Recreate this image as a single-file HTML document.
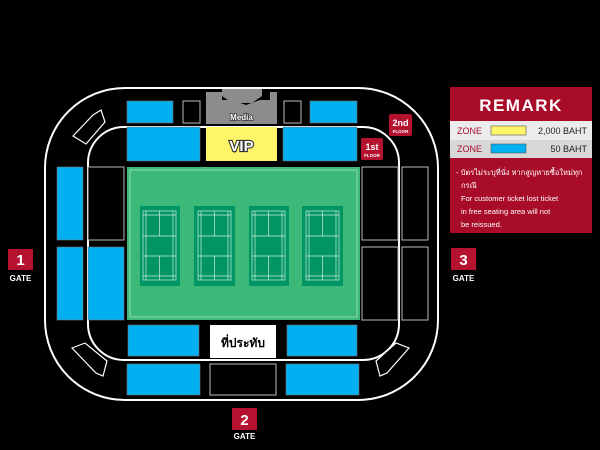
<!DOCTYPE html>
<html><head><meta charset="utf-8"><style>
body{margin:0;background:#000;width:600px;height:450px;overflow:hidden;font-family:"Liberation Sans",sans-serif}
</style></head><body>
<svg width="600" height="450" viewBox="0 0 600 450" xmlns="http://www.w3.org/2000/svg" style="position:absolute;left:0;top:0">
<rect width="600" height="450" fill="#000"/>
<rect x="45" y="88" width="393" height="312" rx="80" fill="none" stroke="#fff" stroke-width="2"/>
<rect x="88" y="127" width="311" height="233" rx="36" fill="none" stroke="#fff" stroke-width="2"/>
<g fill="#000" stroke="#fff" stroke-width="1.2">
<polygon points="73,136 93,115 101,110 105,122 86,144"/>
<polygon points="72,348 85,343 107,361 103,376 96,373"/>
<polygon points="409,348 396,343 376,361 380,376 387,373"/>
</g>
<g fill="#00b0f0" stroke="#777" stroke-width="0.6">
<rect x="127" y="101" width="46" height="22"/>
<rect x="310" y="101" width="47" height="22"/>
<rect x="127" y="127" width="73" height="34"/>
<rect x="283" y="127" width="74" height="34"/>
<rect x="57" y="167" width="26" height="73"/>
<rect x="57" y="247" width="26" height="73"/>
<rect x="88" y="247" width="36" height="73"/>
<rect x="128" y="325" width="71" height="31"/>
<rect x="287" y="325" width="70" height="31"/>
<rect x="127" y="364" width="73" height="31"/>
<rect x="286" y="364" width="73" height="31"/>
</g>
<g fill="#000" stroke="#bbb" stroke-width="1">
<rect x="183" y="101" width="17" height="22"/>
<rect x="284" y="101" width="17" height="22"/>
<rect x="88" y="167" width="36" height="73"/>
<rect x="362" y="167" width="36" height="73"/>
<rect x="402" y="167" width="26" height="73"/>
<rect x="362" y="247" width="36" height="73"/>
<rect x="402" y="247" width="26" height="73"/>
<rect x="210" y="364" width="66" height="31"/>
</g>
<polygon points="206,92 222,92 222,100 232,100 246,105 260,100 270,100 270,92 277,92 277,124 206,124" fill="#8c8c8c"/>
<polygon points="222,89 262,89 262,96 252,103 232,103 222,96" fill="#8c8c8c"/>
<text x="241.5" y="120" text-anchor="middle" font-size="8" font-weight="bold" fill="#fff" stroke="#333" stroke-width="1.5" paint-order="stroke">Media</text>
<rect x="206" y="127" width="71" height="34" fill="#fff568"/>
<text x="241.5" y="151" text-anchor="middle" font-size="15" font-weight="bold" fill="#fff" stroke="#333" stroke-width="2.2" paint-order="stroke">VIP</text>
<rect x="127" y="167" width="233" height="153" fill="#3cb878"/>
<rect x="130" y="170" width="227" height="147" fill="none" stroke="#8fd9ad" stroke-width="1"/>
<g fill="#009564"><rect x="140" y="206" width="40" height="80"/><rect x="194" y="206" width="41" height="80"/><rect x="249" y="206" width="40" height="80"/><rect x="302" y="206" width="41" height="80"/></g>
<g fill="none" stroke="#cfeedd" stroke-width="0.7">
<rect x="143" y="211" width="33" height="69"/><line x1="143" y1="236" x2="176" y2="236"/><line x1="143" y1="256" x2="176" y2="256"/><line x1="159.5" y1="211" x2="159.5" y2="236"/><line x1="159.5" y1="256" x2="159.5" y2="280"/><line x1="146" y1="211" x2="146" y2="280"/><line x1="173" y1="211" x2="173" y2="280"/><line x1="143" y1="215" x2="176" y2="215"/><line x1="143" y1="276" x2="176" y2="276"/>
<rect x="198" y="211" width="33" height="69"/><line x1="198" y1="236" x2="231" y2="236"/><line x1="198" y1="256" x2="231" y2="256"/><line x1="214.5" y1="211" x2="214.5" y2="236"/><line x1="214.5" y1="256" x2="214.5" y2="280"/><line x1="201" y1="211" x2="201" y2="280"/><line x1="228" y1="211" x2="228" y2="280"/><line x1="198" y1="215" x2="231" y2="215"/><line x1="198" y1="276" x2="231" y2="276"/>
<rect x="252" y="211" width="33" height="69"/><line x1="252" y1="236" x2="285" y2="236"/><line x1="252" y1="256" x2="285" y2="256"/><line x1="268.5" y1="211" x2="268.5" y2="236"/><line x1="268.5" y1="256" x2="268.5" y2="280"/><line x1="255" y1="211" x2="255" y2="280"/><line x1="282" y1="211" x2="282" y2="280"/><line x1="252" y1="215" x2="285" y2="215"/><line x1="252" y1="276" x2="285" y2="276"/>
<rect x="306" y="211" width="33" height="69"/><line x1="306" y1="236" x2="339" y2="236"/><line x1="306" y1="256" x2="339" y2="256"/><line x1="322.5" y1="211" x2="322.5" y2="236"/><line x1="322.5" y1="256" x2="322.5" y2="280"/><line x1="309" y1="211" x2="309" y2="280"/><line x1="336" y1="211" x2="336" y2="280"/><line x1="306" y1="215" x2="339" y2="215"/><line x1="306" y1="276" x2="339" y2="276"/>
</g>
<rect x="210" y="325" width="66" height="33" fill="#fff"/>
<text x="243" y="347" text-anchor="middle" font-size="12" font-weight="bold" fill="#000" font-family="Liberation Sans, Noto Sans CJK SC, sans-serif">ที่ประทับ</text>
<rect x="389" y="114" width="23" height="22" rx="2" fill="#b5122f"/>
<text x="400.5" y="126" text-anchor="middle" font-size="9" font-weight="bold" fill="#fff">2nd</text>
<text x="400.5" y="133" text-anchor="middle" font-size="4.5" font-weight="bold" fill="#fff">FLOOR</text>
<rect x="361" y="138" width="22" height="22" rx="2" fill="#b5122f"/>
<text x="372" y="150" text-anchor="middle" font-size="9" font-weight="bold" fill="#fff">1st</text>
<text x="372" y="157" text-anchor="middle" font-size="4.5" font-weight="bold" fill="#fff">FLOOR</text>
<g font-weight="bold" fill="#fff" text-anchor="middle">
<rect x="8" y="249" width="25" height="21" fill="#b5122f"/><text x="20.5" y="265" font-size="15">1</text><text x="20.5" y="281" font-size="8">GATE</text>
<rect x="232" y="408" width="25" height="22" fill="#b5122f"/><text x="244.5" y="425" font-size="15">2</text><text x="244.5" y="439" font-size="8">GATE</text>
<rect x="451" y="248" width="25" height="22" fill="#b5122f"/><text x="463.5" y="265" font-size="15">3</text><text x="463.5" y="281" font-size="8">GATE</text>
</g>
<rect x="450" y="87" width="142" height="146" fill="#a80c28"/>
<text x="521" y="111" text-anchor="middle" font-size="17" font-weight="bold" fill="#fff" letter-spacing="1.5">REMARK</text>
<rect x="450" y="121" width="142" height="19" fill="#ececec"/>
<rect x="450" y="140" width="142" height="18" fill="#d8d8d8"/>
<text x="457" y="134" font-size="9" fill="#a80c28">ZONE</text>
<rect x="491" y="126" width="35" height="9" fill="#fff568" stroke="#555" stroke-width="0.6"/>
<text x="587" y="134" text-anchor="end" font-size="9" fill="#222">2,000 BAHT</text>
<text x="457" y="152" font-size="9" fill="#a80c28">ZONE</text>
<rect x="491" y="144" width="35" height="9" fill="#00b0f0" stroke="#555" stroke-width="0.6"/>
<text x="587" y="152" text-anchor="end" font-size="9" fill="#222">50 BAHT</text>
<g font-size="7.5" fill="#fff" font-family="Liberation Sans, Noto Sans CJK SC, sans-serif">
<text x="456" y="175">- บัตรไม่ระบุที่นั่ง หากสูญหายซื้อใหม่ทุก</text>
<text x="461" y="188">กรณี</text>
<text x="461" y="201">For customer ticket lost ticket</text>
<text x="461" y="214">in free seating area will not</text>
<text x="461" y="227">be reissued.</text>
</g>
</svg>
</body></html>
